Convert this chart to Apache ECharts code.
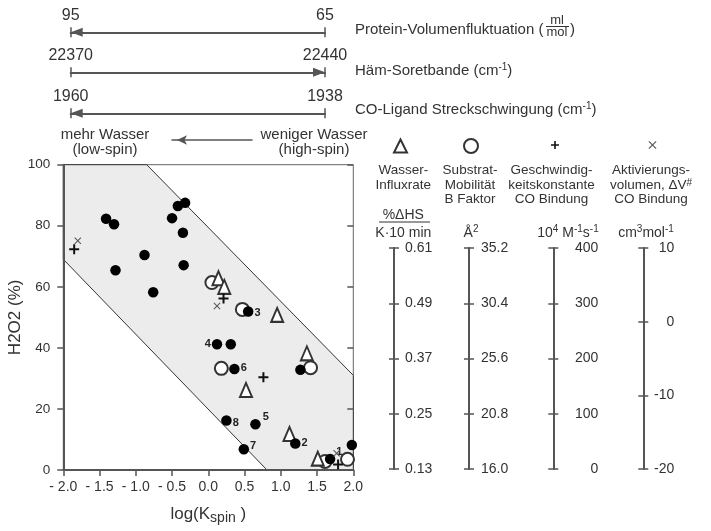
<!DOCTYPE html>
<html lang="de">
<head>
<meta charset="UTF-8">
<title>H2O2 gegen log(Kspin)</title>
<script src="https://cdn.jsdelivr.net/npm/echarts@6/dist/echarts.min.js"></script>
<style>
html, body { margin: 0; padding: 0; background: #fff; }
#chart { width: 711px; height: 531px; }
</style>
</head>
<body>
<div id="chart"></div>
<script>
// --- values ---
// shaded band (corner points in data units)
const region = [[-2, 100], [-0.85, 100], [2, 31], [2, 0], [0.81, 0], [-2, 69]];
// filled dots: [log(Kspin), H2O2 %, number]
const samples = [
  [-1.41, 82.3, ''], [-1.30, 80.5, ''], [-1.28, 65.4, ''], [-0.88, 70.4, ''],
  [-0.76, 58.2, ''], [-0.50, 82.5, ''], [-0.42, 86.5, ''], [-0.32, 87.5, ''],
  [-0.35, 77.7, ''], [-0.34, 67.1, ''], [0.55, 51.9, '3'], [0.12, 41.2, '4'],
  [0.31, 41.2, ''], [0.36, 33.1, '6'], [1.27, 32.8, ''], [0.25, 16.2, '8'],
  [0.65, 15.0, '5'], [0.49, 6.8, '7'], [1.20, 8.7, '2'], [1.98, 8.2, ''],
  [1.68, 3.6, '1']
];
const waterInflux = [[0.14, 62.8], [0.22, 60.0], [0.95, 50.8], [0.52, 26.2], [1.36, 38.2], [1.12, 11.8], [1.51, 3.7]];
const bFactor = [[0.05, 61.4], [0.47, 52.6], [0.18, 33.3], [1.41, 33.5], [1.61, 2.8], [1.92, 3.5]];
const coRate = [[-1.85, 72.3], [0.21, 56.2], [0.76, 30.4], [1.79, 1.8]];
const actVolume = [[-1.80, 75.1], [0.12, 53.7], [1.77, 5.5]];

// top bars: [left end, right end]
const proteinVolume = [95, 65];
const soretBand = [22370, 22440];
const coStretch = [1960, 1938];

// right-hand scales (bottom to top)
const waterTicks = [0.13, 0.25, 0.37, 0.49, 0.61];
const bTicks = [16.0, 20.8, 25.6, 30.4, 35.2];
const rateTicks = [0, 100, 200, 300, 400];
const volTicks = [-20, -10, 0, 10];

const FONT = 'Liberation Sans';
const INK = '#333';
const LINE = '#555';

const chart = echarts.init(document.getElementById('chart'));

function barAxes(g, ends, arrowLeft) {
  const base = {
    type: 'value', gridIndex: g, position: 'top',
    min: Math.min(...ends), max: Math.max(...ends), inverse: ends[0] > ends[1],
    splitLine: { show: false }
  };
  const tick = { length: 5, lineStyle: { color: LINE, width: 1.5 }, customValues: ends };
  return [
    Object.assign({}, base, {
      axisLine: {
        onZero: false, lineStyle: { color: LINE, width: 2 },
        symbol: arrowLeft ? ['triangle', 'none'] : ['none', 'triangle'],
        symbolSize: [9, 12], symbolOffset: arrowLeft ? [6, 0] : [0, -6]
      },
      axisTick: tick,
      axisLabel: { customValues: ends, margin: 9, fontSize: 16, color: INK, formatter: v => String(v) }
    }),
    Object.assign({}, base, {
      axisLine: { show: false, onZero: false },
      axisTick: Object.assign({}, tick, { inside: true }),
      axisLabel: { show: false }
    })
  ];
}

function scaleAxes(g, ticks, align, margin, digits) {
  const base = {
    type: 'value', gridIndex: g, position: 'left',
    min: ticks[0], max: ticks[ticks.length - 1], splitLine: { show: false }
  };
  const tick = { length: 5, lineStyle: { color: LINE, width: 1.5 }, customValues: ticks };
  return [
    Object.assign({}, base, {
      axisLine: { onZero: false, lineStyle: { color: LINE, width: 2 } },
      axisTick: tick,
      axisLabel: { customValues: ticks, inside: true, align: align, margin: margin, fontSize: 14, color: INK, formatter: v => v.toFixed(digits) }
    }),
    Object.assign({}, base, {
      axisLine: { show: false, onZero: false },
      axisTick: Object.assign({}, tick, { inside: true }),
      axisLabel: { show: false }
    })
  ];
}

function hidden(g) {
  return { type: 'value', gridIndex: g, show: false, min: 0, max: 1 };
}

function txt(x, y, text, extra) {
  return {
    type: 'text', x: x, y: y, silent: true,
    style: Object.assign({ text: text, font: '15px ' + FONT, fill: INK, align: 'left', verticalAlign: 'middle' }, extra || {})
  };
}
const sup = { s: { fontSize: 10, fontFamily: FONT, fill: INK, verticalAlign: 'top', lineHeight: 10 } };
const head = { font: '13.5px ' + FONT, align: 'center', verticalAlign: 'top', lineHeight: 14.3 };

const labelPos = {
  '1': { position: 'right', offset: [-2, -7] },
  '2': { position: 'right', offset: [-2, 0] },
  '3': { position: 'right', offset: [-2, 1] },
  '4': { position: 'left', offset: [2, 0] },
  '5': { position: 'right', offset: [-1, -7] },
  '6': { position: 'right', offset: [-2, -1] },
  '7': { position: 'right', offset: [-2, -3] },
  '8': { position: 'right', offset: [-2, 2] }
};

const legendBase = {
  padding: 0, itemGap: 0, selectedMode: false,
  formatter: () => '', textStyle: { fontSize: 1 }
};

const option = {
  animation: false,
  textStyle: { fontFamily: FONT, color: INK },
  grid: [
    { left: 63.3, right: 357.7, top: 164.7, bottom: 61, show: true, borderColor: '#666', borderWidth: 1 },
    { left: 70.7, right: 386, top: 32.3, height: 0 },
    { left: 70.7, right: 386, top: 72.3, height: 0 },
    { left: 70.7, right: 386, top: 113.3, height: 0 },
    { left: 172, right: 459, top: 140, height: 0 },
    { left: 394, width: 1, top: 248, height: 221 },
    { left: 469, width: 1, top: 248, height: 221 },
    { left: 553.3, width: 1, top: 248, height: 221 },
    { left: 643.3, width: 1, top: 248, height: 221 }
  ],
  xAxis: [
    {
      type: 'value', gridIndex: 0, min: -2, max: 2, interval: 0.5, z: 5,
      axisLine: { onZero: false, lineStyle: { color: LINE, width: 2 } },
      axisTick: { length: 6, lineStyle: { color: LINE, width: 1.5 } },
      axisLabel: { margin: 10, fontSize: 14, color: INK, formatter: v => (v < 0 ? '- ' : '') + Math.abs(v).toFixed(1) },
      splitLine: { show: false },
      name: 'log(K{s|spin} )', nameLocation: 'middle', nameGap: 33,
      nameTextStyle: {
        fontSize: 17, color: INK, lineHeight: 22,
        rich: { s: { fontSize: 14, fontFamily: FONT, color: INK, verticalAlign: 'bottom', lineHeight: 14 } }
      }
    },
    ...barAxes(1, proteinVolume, true),
    ...barAxes(2, soretBand, false),
    ...barAxes(3, coStretch, true),
    {
      type: 'value', gridIndex: 4, min: 0, max: 1, splitLine: { show: false },
      axisLine: { onZero: false, lineStyle: { color: LINE, width: 1.5 }, symbol: ['arrow', 'none'], symbolSize: [7, 10], symbolOffset: [5, 0] },
      axisTick: { show: false }, axisLabel: { show: false }
    },
    hidden(5), hidden(6), hidden(7), hidden(8)
  ],
  yAxis: [
    {
      type: 'value', gridIndex: 0, min: 0, max: 100, interval: 20, z: 5,
      axisLine: { onZero: false, lineStyle: { color: LINE, width: 2 } },
      axisTick: { length: 6, lineStyle: { color: LINE, width: 1.5 } },
      axisLabel: { margin: 13, fontSize: 13.5, color: INK },
      splitLine: { show: false },
      name: 'H2O2 (%)', nameLocation: 'middle', nameGap: 37,
      nameTextStyle: { fontSize: 17, color: INK }
    },
    {
      type: 'value', gridIndex: 0, min: 0, max: 100, interval: 20, z: 5,
      axisLine: { show: false, onZero: false }, axisLabel: { show: false }, splitLine: { show: false },
      axisTick: { inside: true, length: 6, lineStyle: { color: LINE, width: 1.5 } }
    },
    hidden(1), hidden(2), hidden(3), hidden(4),
    ...scaleAxes(5, waterTicks, 'left', 11, 2),
    ...scaleAxes(6, bTicks, 'left', 12, 1),
    ...scaleAxes(7, rateTicks, 'right', 45, 0),
    ...scaleAxes(8, volTicks, 'right', 31, 0)
  ],
  legend: [
    Object.assign({}, legendBase, { data: ['Wasser-Influxrate'], left: 393, top: 138.5, itemWidth: 13, itemHeight: 13 }),
    Object.assign({}, legendBase, { data: ['Substrat-Mobilität'], left: 463, top: 138, itemWidth: 14, itemHeight: 14 }),
    Object.assign({}, legendBase, { data: ['Geschwindigkeitskonstante'], left: 551, top: 141, itemWidth: 8, itemHeight: 8 }),
    Object.assign({}, legendBase, { data: ['Aktivierungsvolumen'], left: 648.5, top: 140.5, itemWidth: 8, itemHeight: 9 })
  ],
  graphic: [
    txt(355, 30, 'Protein-Volumenfluktuation ('),
    txt(557, 20, 'ml', { font: '13px ' + FONT, align: 'center' }),
    { type: 'line', silent: true, shape: { x1: 546, y1: 26.5, x2: 569, y2: 26.5 }, style: { stroke: INK, lineWidth: 1 } },
    txt(557, 32.5, 'mol', { font: '13px ' + FONT, align: 'center' }),
    txt(570, 30, ')'),
    txt(355, 71, 'Häm-Soretbande (cm{s|-1})', { lineHeight: 18, rich: sup }),
    txt(355, 110, 'CO-Ligand Streckschwingung (cm{s|-1})', { lineHeight: 18, rich: sup }),
    txt(105, 142.5, 'mehr Wasser\n(low-spin)', { align: 'center', lineHeight: 15 }),
    txt(314, 142.5, 'weniger Wasser\n(high-spin)', { align: 'center', lineHeight: 15 }),
    txt(403.3, 163.5, 'Wasser-\nInfluxrate', head),
    txt(470, 163.5, 'Substrat-\nMobilität\nB Faktor', head),
    txt(551.5, 163.5, 'Geschwindig-\nkeitskonstante\nCO Bindung', head),
    txt(651, 163.5, 'Aktivierungs-\nvolumen, ΔV{s|#}\nCO Bindung', Object.assign({ rich: sup }, head)),
    txt(403.3, 215, '%ΔHS', { font: '14px ' + FONT, align: 'center' }),
    { type: 'line', silent: true, shape: { x1: 379, y1: 222, x2: 430, y2: 222 }, style: { stroke: INK, lineWidth: 1 } },
    txt(403.3, 233.3, 'K·10 min', { font: '14px ' + FONT, align: 'center' }),
    txt(471, 233.3, 'Å{s|2}', { font: '14px ' + FONT, align: 'center', lineHeight: 18, rich: sup }),
    txt(568, 233.3, '10{s|4} M{s|-1}s{s|-1}', { font: '14px ' + FONT, align: 'center', lineHeight: 18, rich: sup }),
    txt(646, 233.3, 'cm{s|3}mol{s|-1}', { font: '14px ' + FONT, align: 'center', lineHeight: 18, rich: sup })
  ],
  series: [
    {
      name: 'Bereich', type: 'custom', xAxisIndex: 0, yAxisIndex: 0, silent: true, z: 1,
      data: [0],
      renderItem: (params, api) => ({
        type: 'polygon',
        shape: { points: region.map(p => api.coord(p)) },
        style: { fill: '#ececec', stroke: '#333', lineWidth: 1 }
      })
    },
    {
      name: 'Substrat-Mobilität', type: 'scatter', xAxisIndex: 0, yAxisIndex: 0, z: 2,
      symbol: 'emptyCircle', symbolSize: 13,
      itemStyle: { color: '#333', borderWidth: 1.5, opacity: 1 },
      data: bFactor
    },
    {
      name: 'Wasser-Influxrate', type: 'scatter', xAxisIndex: 0, yAxisIndex: 0, z: 3,
      symbol: 'emptyTriangle', symbolSize: [12, 14],
      itemStyle: { color: '#333', borderWidth: 1.5, opacity: 1 },
      data: waterInflux
    },
    {
      name: 'Proben', type: 'scatter', xAxisIndex: 0, yAxisIndex: 0, z: 4,
      symbol: 'circle', symbolSize: 10.5,
      itemStyle: { color: '#000', opacity: 1 },
      data: samples.map(s => {
        const item = { value: [s[0], s[1]] };
        if (s[2]) {
          item.label = Object.assign({
            show: true, formatter: s[2], distance: 3,
            fontSize: 11, fontWeight: 'bold', color: '#222'
          }, labelPos[s[2]]);
        }
        return item;
      })
    },
    {
      name: 'Geschwindigkeitskonstante', type: 'scatter', xAxisIndex: 0, yAxisIndex: 0, z: 5,
      symbol: 'path://M4,0H6V4H10V6H6V10H4V6H0V4H4Z', symbolSize: 10,
      itemStyle: { color: '#111', opacity: 1 },
      data: coRate
    },
    {
      name: 'Aktivierungsvolumen', type: 'scatter', xAxisIndex: 0, yAxisIndex: 0, z: 5,
      symbol: 'path://M0,1L1,0L5,4L9,0L10,1L6,5L10,9L9,10L5,6L1,10L0,9L4,5Z', symbolSize: 7,
      itemStyle: { color: '#555', opacity: 1 },
      data: actVolume
    }
  ]
};

chart.setOption(option);
window.addEventListener('resize', function () { chart.resize(); });
</script>
</body>
</html>
